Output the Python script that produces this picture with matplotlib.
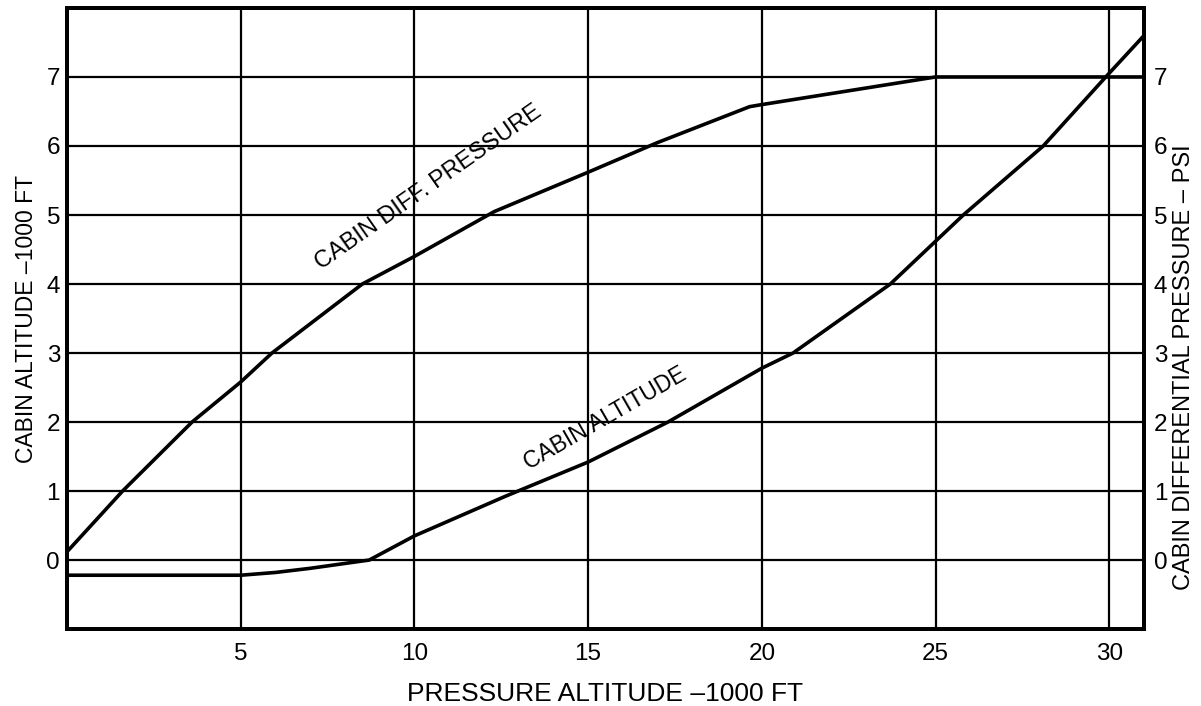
import matplotlib
matplotlib.use("Agg")
import matplotlib.pyplot as plt

plt.rcParams['font.family'] = ['Liberation Sans', 'DejaVu Sans']

# pressure altitude (1000 ft) vs cabin differential pressure (psi)
diff_x = [0, 1.6, 3.6, 5, 5.9, 7.2, 8.5, 10, 12.3, 15, 17, 19.65, 20, 22.5, 25, 31]
diff_y = [0.12, 1.0, 2.0, 2.58, 3.0, 3.5, 4.0, 4.4, 5.05, 5.62, 6.05, 6.57, 6.6, 6.8, 7.0, 7.0]

# pressure altitude (1000 ft) vs cabin altitude (1000 ft)
alt_x = [0, 5, 6, 7, 8.7, 10, 12.6, 15, 17.3, 20, 20.9, 23.7, 25.8, 28.1, 29.9, 31]
alt_y = [-0.22, -0.22, -0.18, -0.12, 0.0, 0.35, 0.92, 1.42, 2.0, 2.78, 3.0, 4.0, 5.0, 6.0, 7.0, 7.6]

x_ticks = [5, 10, 15, 20, 25, 30]
y_ticks = [0, 1, 2, 3, 4, 5, 6, 7]

fig = plt.figure(figsize=(12.01, 7.06), dpi=100)
ax = fig.add_axes([0.0558, 0.109, 0.8967, 0.8797])

ax.set_xlim(0, 31)
ax.set_ylim(-1, 8)
ax.set_xticks(x_ticks)
ax.set_yticks(y_ticks)
ax.grid(True, color='black', linewidth=1.6)
ax.set_axisbelow(True)
for s in ax.spines.values():
    s.set_linewidth(2.8)

ax.tick_params(axis='x', length=0, pad=10, labelsize=17.5)
ax.tick_params(axis='y', length=0, pad=5, labelsize=17.5)

ax.plot(diff_x, diff_y, color='black', linewidth=2.6, solid_joinstyle='miter')
ax.plot(alt_x, alt_y, color='black', linewidth=2.6, solid_joinstyle='miter')

ax.text(10.4, 5.4, 'CABIN DIFF. PRESSURE', rotation=35, fontsize=17,
        ha='center', va='center', rotation_mode='anchor')
ax.text(15.5, 2.05, 'CABIN ALTITUDE', rotation=30, fontsize=16.5,
        ha='center', va='center', rotation_mode='anchor')

ax.set_xlabel('PRESSURE ALTITUDE \u20131000 FT', fontsize=19, labelpad=12)
ax.set_ylabel('CABIN ALTITUDE \u20131000 FT', fontsize=16.5, labelpad=6)

ax2 = ax.twinx()
ax2.set_ylim(-1, 8)
ax2.set_yticks(y_ticks)
ax2.tick_params(axis='y', length=0, pad=7, labelsize=17.5)
for s in ax2.spines.values():
    s.set_linewidth(2.8)

# right-hand label sits lower than the axis centre in the original
fig.text(1184 / 1201, 1 - 367 / 706, 'CABIN DIFFERENTIAL PRESSURE \u2013 PSI',
         rotation=90, fontsize=17, ha='center', va='center')

fig.savefig('out.png', dpi=100)
